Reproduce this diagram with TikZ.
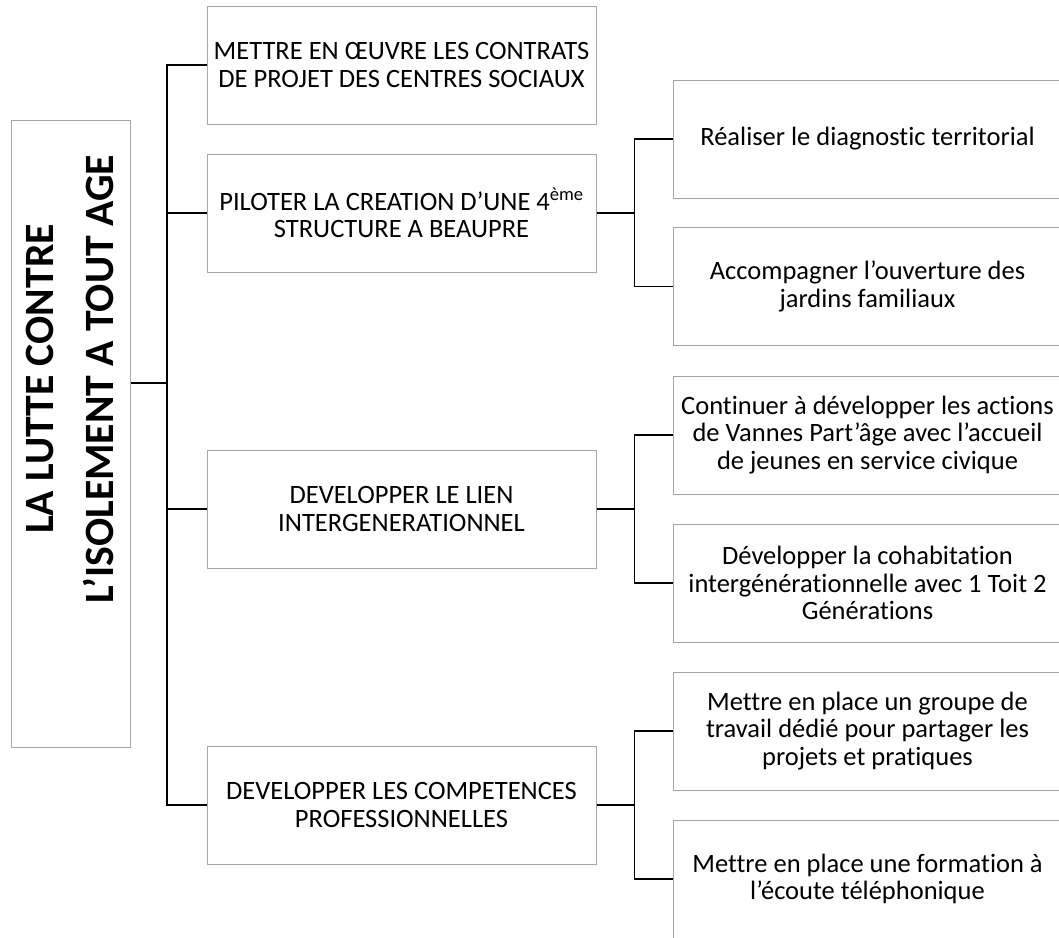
\documentclass[tikz,border=0pt]{standalone}
\usepackage{fontspec}
\setmainfont{Carlito}[Ligatures=CommonOff]
\usetikzlibrary{positioning}

\begin{document}
\begin{tikzpicture}[
  x=1pt, y=-1pt,
  every node/.style={font=\fontsize{26.5}{27.5}\selectfont},
  axis/.style={draw=gray!70, line width=1pt, minimum width=389pt,
              minimum height=118pt, inner sep=0pt, align=center},
  action/.style={axis},
  link/.style={line width=1.6pt},
]
  \clip (0,0) rectangle (1059,937);

  % main theme
  \node[draw=gray!70, line width=1pt, minimum width=119pt,
    minimum height=627pt, inner sep=0pt] (theme) at (70.5, 433.5) {};
  \node[rotate=90, align=center,
    font=\fontsize{41.7}{60}\selectfont\bfseries] (title) at (70, 379)
    {LA LUTTE CONTRE\\L’ISOLEMENT A TOUT AGE};

  % axes
  \node[axis] (contrats) at (401.5, 65)
    {METTRE EN ŒUVRE LES CONTRATS\\DE PROJET DES CENTRES SOCIAUX};
  \node[axis] (beaupre) at (401.5, 213)
    {PILOTER LA CREATION D’UNE 4\textsuperscript{ème}\\STRUCTURE A BEAUPRE};
  \node[axis] (lien) at (401.5, 509)
    {DEVELOPPER LE LIEN\\INTERGENERATIONNEL};
  \node[axis] (competences) at (401.5, 805)
    {DEVELOPPER LES COMPETENCES\\PROFESSIONNELLES};

  % actions
  \node[action] (diagnostic) at (867.5, 139)
    {Réaliser le diagnostic territorial};
  \node[action] (jardins) at (867.5, 286.5)
    {Accompagner l’ouverture des\\jardins familiaux};
  \node[action] (partage) at (867.5, 435)
    {Continuer à développer les actions\\de Vannes Part’âge avec l’accueil\\de jeunes en service civique};
  \node[action] (cohabitation) at (867.5, 583)
    {Développer la cohabitation\\intergénérationnelle avec 1 Toit 2\\Générations};
  \node[action] (groupe) at (867.5, 731)
    {Mettre en place un groupe de\\travail dédié pour partager les\\projets et pratiques};
  \node[action] (ecoute) at (867.5, 879)
    {Mettre en place une formation à\\l’écoute téléphonique};

  % tree lines
  \coordinate (hub) at (167, 383);
  \draw[link] (theme.east |- hub) -- (hub);
  \foreach \n in {contrats, beaupre, lien, competences}
    \draw[link] (hub) |- (\n.west);

  \coordinate[right=38pt of beaupre] (hubA);
  \coordinate[right=38pt of lien] (hubB);
  \coordinate[right=38pt of competences] (hubC);
  \draw[link] (beaupre.east) -- (hubA) |- (diagnostic.west);
  \draw[link] (hubA) |- (jardins.west);
  \draw[link] (lien.east) -- (hubB) |- (partage.west);
  \draw[link] (hubB) |- (cohabitation.west);
  \draw[link] (competences.east) -- (hubC) |- (groupe.west);
  \draw[link] (hubC) |- (ecoute.west);
\end{tikzpicture}
\end{document}
